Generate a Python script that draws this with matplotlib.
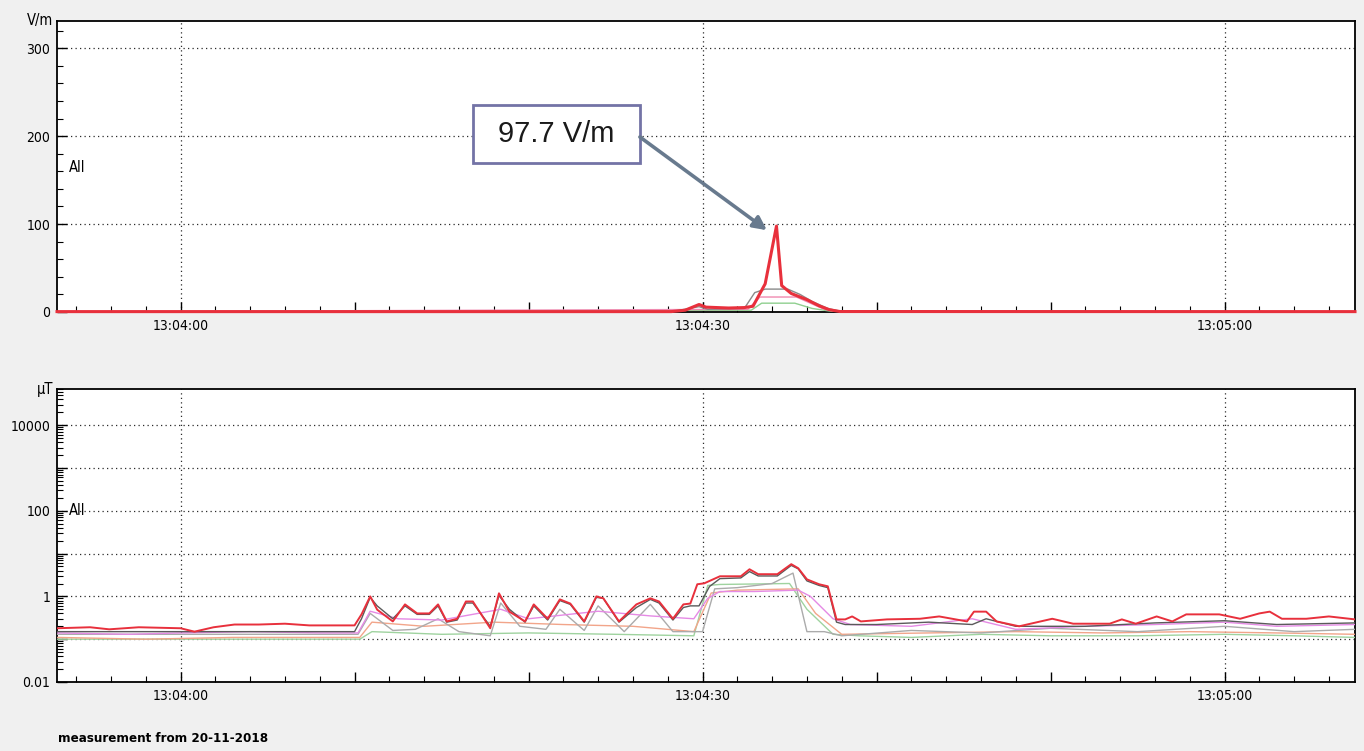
import numpy as np
import matplotlib
matplotlib.use("Agg")
import matplotlib.pyplot as plt
from matplotlib.patches import Rectangle
from matplotlib.ticker import MultipleLocator, FuncFormatter, LogLocator

NARROW = dict(family="DejaVu Sans", stretch="condensed")
BASE_CLOCK = 13 * 3600 + 4 * 60   # 13:04:00 in seconds of day
T_START, T_END = -7.1, 67.5       # seconds after 13:04:00

# ---- electric field, V/m (breakpoints) ----
e_red_t = [-7.1, 28.2, 29.0, 29.8, 30.2, 31.5, 32.4, 32.9, 33.6, 34.25,
           34.55, 35.1, 36.0, 36.7, 37.3, 37.9, 67.5]
e_red_v = [0.4, 0.4, 2.0, 8.5, 5.5, 4.5, 5.0, 6.5, 32.0, 97.7,
           30.0, 21.0, 14.0, 7.0, 2.5, 0.5, 0.4]
e_grey_t = [-7.1, 28.2, 29.8, 30.3, 32.4, 33.0, 33.6, 34.9, 35.6, 36.3, 37.2, 38.0, 67.5]
e_grey_v = [0.3, 0.3, 6.0, 3.0, 4.0, 22.0, 26.0, 26.0, 20.0, 12.0, 4.0, 0.5, 0.3]
e_pink_t = [-7.1, 32.6, 33.3, 35.4, 36.2, 37.0, 37.8, 67.5]
e_pink_v = [0.3, 3.0, 17.0, 17.0, 10.0, 3.0, 0.5, 0.3]
e_green_t = [-7.1, 32.8, 33.4, 35.3, 36.3, 37.5, 67.5]
e_green_v = [0.2, 2.0, 10.0, 10.0, 4.0, 0.5, 0.2]

# ---- magnetic field, uT ----
b_red_t = [-7.1, -5.2, -4.1, -2.4, 0.0, 0.8, 1.9, 3.1, 4.5, 6.0, 7.4, 10.0, 10.4, 10.9,
           11.3, 12.2, 12.9, 13.6, 14.3, 14.8, 15.3, 15.9, 16.4, 16.8, 17.8, 18.3, 18.9,
           19.8, 20.3, 21.1, 21.8, 22.4, 23.2, 23.9, 24.3, 25.2, 26.2, 27.0, 27.5, 28.3,
           28.9, 29.3, 29.7, 30.1, 31.0, 32.2, 32.7, 33.2, 34.3, 35.1, 35.5, 36.0, 36.7,
           37.2, 37.7, 38.2, 38.6, 39.1, 40.6, 42.5, 43.6, 45.2, 45.6, 46.3, 46.9, 48.2,
           50.1, 51.3, 53.4, 54.1, 54.9, 56.1, 57.0, 57.8, 59.7, 60.9, 62.0, 62.6, 63.3,
           64.7, 66.0, 67.5]
b_red_v = [0.18, 0.19, 0.17, 0.19, 0.18, 0.15, 0.19, 0.22, 0.22, 0.23, 0.21, 0.21, 0.38, 1.0,
           0.49, 0.26, 0.65, 0.40, 0.40, 0.65, 0.26, 0.30, 0.76, 0.76, 0.18, 1.18, 0.44,
           0.26, 0.65, 0.30, 0.85, 0.68, 0.26, 1.0, 0.90, 0.26, 0.65, 0.90, 0.76, 0.30,
           0.65, 0.68, 1.92, 2.02, 2.95, 2.95, 4.3, 3.3, 3.3, 5.66, 4.55, 2.5, 1.92,
           1.72, 0.29, 0.29, 0.34, 0.26, 0.29, 0.30, 0.34, 0.26, 0.44, 0.44, 0.26, 0.20,
           0.30, 0.23, 0.23, 0.29, 0.23, 0.34, 0.26, 0.38, 0.38, 0.30, 0.40, 0.44, 0.30,
           0.30, 0.34, 0.29]
b_dark_t = [-7.1, 10.0, 10.4, 10.9, 11.3, 12.2, 12.9, 13.6, 14.3, 14.8, 15.3, 15.9, 16.4,
            16.8, 17.8, 18.3, 18.9, 19.8, 20.3, 21.1, 21.8, 22.4, 23.2, 23.9, 24.3, 25.2,
            26.2, 27.0, 27.5, 28.3, 28.9, 29.3, 29.8, 30.4, 31.0, 32.2, 32.7, 33.2, 34.3,
            35.1, 35.5, 36.0, 36.7, 37.2, 37.7, 38.2, 40.0, 43.0, 45.5, 46.3, 48.0, 52.0,
            56.0, 60.0, 63.0, 67.5]
b_dark_v = [0.15, 0.15, 0.3, 0.95, 0.6, 0.3, 0.6, 0.38, 0.38, 0.6, 0.25, 0.28, 0.7,
            0.7, 0.2, 1.05, 0.5, 0.25, 0.6, 0.28, 0.8, 0.65, 0.25, 0.95, 0.9, 0.25,
            0.55, 0.85, 0.7, 0.28, 0.55, 0.6, 0.6, 1.7, 2.6, 2.7, 3.8, 3.0, 3.0,
            5.3, 4.4, 2.3, 1.8, 1.6, 0.25, 0.22, 0.22, 0.25, 0.22, 0.3, 0.2, 0.2,
            0.24, 0.27, 0.22, 0.24]
b_grey_t = [-7.1, 10.2, 10.9, 12.2, 13.5, 14.8, 16.0, 17.8, 18.4, 19.5, 21.0, 21.8, 23.2,
            24.0, 25.5, 27.0, 28.3, 30.0, 30.7, 32.0, 34.0, 35.2, 36.0, 37.0, 38.0, 42.0,
            46.0, 50.0, 55.0, 60.0, 64.0, 67.5]
b_grey_v = [0.13, 0.13, 0.40, 0.16, 0.17, 0.30, 0.15, 0.12, 0.70, 0.20, 0.17, 0.50, 0.16,
            0.60, 0.15, 0.65, 0.15, 0.15, 1.5, 1.6, 2.0, 3.5, 0.15, 0.15, 0.12, 0.16,
            0.14, 0.18, 0.15, 0.2, 0.15, 0.17]
b_pink_t = [-7.1, -3.0, 0.0, 4.0, 8.0, 10.2, 10.9, 12.5, 15.0, 18.4, 20.0, 24.0, 27.0,
            29.5, 30.3, 31.0, 33.0, 35.5, 36.2, 37.5, 38.5, 42.0, 45.5, 48.0, 52.0, 56.0,
            60.0, 63.0, 67.5]
b_pink_v = [0.14, 0.13, 0.14, 0.15, 0.14, 0.14, 0.45, 0.30, 0.28, 0.5, 0.3, 0.45, 0.35,
            0.3, 0.9, 1.3, 1.3, 1.4, 1.0, 0.3, 0.22, 0.2, 0.3, 0.17, 0.2, 0.22,
            0.25, 0.2, 0.22]
b_salmon_t = [-7.1, -2.0, 3.0, 8.0, 10.3, 11.0, 14.0, 18.0, 22.0, 26.0, 29.5, 30.5, 32.0,
              35.5, 36.5, 38.0, 43.0, 48.0, 53.0, 58.0, 63.0, 67.5]
b_salmon_v = [0.11, 0.10, 0.11, 0.11, 0.11, 0.25, 0.2, 0.25, 0.22, 0.2, 0.15, 1.2, 1.4,
              1.5, 0.4, 0.13, 0.14, 0.15, 0.14, 0.15, 0.14, 0.13]
b_green_t = [-7.1, 0.0, 6.0, 10.3, 11.0, 15.0, 20.0, 25.0, 29.5, 30.3, 31.0, 35.0, 36.0,
             37.5, 39.0, 42.0, 46.0, 50.0, 55.0, 60.0, 64.0, 67.5]
b_green_v = [0.10, 0.10, 0.10, 0.10, 0.15, 0.13, 0.14, 0.13, 0.12, 1.8, 1.9, 2.0, 0.5,
             0.13, 0.12, 0.11, 0.13, 0.12, 0.12, 0.13, 0.12, 0.11]

E_GRID = [100, 200, 300]
B_GRID = [0.1, 1, 10, 100, 1000, 10000]
GRID_KW = dict(color="#2a2a2a", lw=0.9, ls=(0, (1, 2.6)), zorder=1)


def _clock(t, _pos):
    if round(t) % 30:
        return ""
    s = BASE_CLOCK + int(round(t))
    return f"{s // 3600:02d}:{s // 60 % 60:02d}:{s % 60:02d}"


def _tesla(v, _pos):
    if v <= 0 or int(round(np.log10(v))) % 2:
        return ""
    return f"{v:g}"


def _frame(ax):
    ax.set_facecolor("white")
    ax.set_xlim(T_START, T_END)
    ax.xaxis.set_major_locator(MultipleLocator(10))
    ax.xaxis.set_minor_locator(MultipleLocator(2))
    ax.xaxis.set_major_formatter(FuncFormatter(_clock))
    ax.tick_params(which="major", direction="in", length=7, width=1, pad=5,
                   labelsize=10, colors="black")
    ax.tick_params(which="minor", direction="in", length=4, width=0.8)
    for lab in ax.get_xticklabels() + ax.get_yticklabels():
        lab.set_family(NARROW["family"])
        lab.set_stretch(NARROW["stretch"])
    for sp in ax.spines.values():
        sp.set_linewidth(1.3)
    for t in (0, 30, 60):
        ax.axvline(t, **GRID_KW)


fig = plt.figure(figsize=(13.64, 7.51), dpi=100, facecolor="#f0f0f0")
ax1 = fig.add_axes([0.0418, 0.5846, 0.9516, 0.3875])
ax2 = fig.add_axes([0.0418, 0.0919, 0.9516, 0.3901])

# top: electric field
ax1.set_ylim(0, 331)
ax1.yaxis.set_major_locator(MultipleLocator(100))
ax1.yaxis.set_minor_locator(MultipleLocator(20))
_frame(ax1)
for y in E_GRID:
    ax1.axhline(y, **GRID_KW)
ax1.plot(e_green_t, e_green_v, color="#8fcf8f", lw=1, zorder=3)
ax1.plot(e_pink_t, e_pink_v, color="#f08ab0", lw=1, zorder=3)
ax1.plot(e_grey_t, e_grey_v, color="#8a8a8a", lw=1, zorder=3)
ax1.plot(e_red_t, e_red_v, color="#e8303c", lw=2.2, zorder=4, clip_on=False)
ax1.text(0.009, 164, "All", transform=ax1.get_yaxis_transform(), fontsize=10.5,
         va="center", **NARROW)
ax1.text(-0.003, 1.0, "V/m", transform=ax1.transAxes, ha="right", va="center",
         fontsize=10.5, **NARROW)

# callout for the peak
peak = max(e_red_v)
ax1.add_patch(Rectangle((16.8, 170), 9.6, 65, facecolor="white", edgecolor="#7373a6",
                        lw=2, zorder=5))
ax1.text(21.6, 202, f"{peak:.1f} V/m", ha="center", va="center", fontsize=21,
         family="Liberation Sans", color="#1a1a1a", zorder=6)
ax1.annotate("", xy=(33.7, 93), xytext=(26.4, 199),
             arrowprops=dict(arrowstyle="-|>,head_length=0.8,head_width=0.4",
                             color="#687a8e", lw=2.6, shrinkA=0, shrinkB=0), zorder=6)

# bottom: magnetic field, log scale
ax2.set_yscale("log")
ax2.set_ylim(0.01, 7e4)
ax2.yaxis.set_major_locator(LogLocator(base=10, numticks=20))
ax2.yaxis.set_minor_locator(LogLocator(base=10, subs=np.arange(2, 10), numticks=20))
ax2.yaxis.set_major_formatter(FuncFormatter(_tesla))
_frame(ax2)
for y in B_GRID:
    ax2.axhline(y, **GRID_KW)
ax2.plot(b_green_t, b_green_v, color="#9fd39f", lw=1, zorder=3)
ax2.plot(b_salmon_t, b_salmon_v, color="#f2a58a", lw=1, zorder=3)
ax2.plot(b_grey_t, b_grey_v, color="#ababab", lw=1, zorder=3)
ax2.plot(b_pink_t, b_pink_v, color="#e58ae5", lw=1, zorder=3)
ax2.plot(b_dark_t, b_dark_v, color="#5a5a5a", lw=1, zorder=3)
ax2.plot(b_red_t, b_red_v, color="#e8303c", lw=1.4, zorder=4)
ax2.text(0.009, 100, "All", transform=ax2.get_yaxis_transform(), fontsize=10.5,
         va="center", **NARROW)
ax2.text(-0.003, 1.0, "µT", transform=ax2.transAxes, ha="right", va="center",
         fontsize=10.5, **NARROW)

fig.text(0.0425, 0.008, "measurement from 20-11-2018", fontsize=9.5, weight="bold",
         va="bottom", **NARROW)

fig.savefig("out.png", dpi=100, facecolor=fig.get_facecolor())
